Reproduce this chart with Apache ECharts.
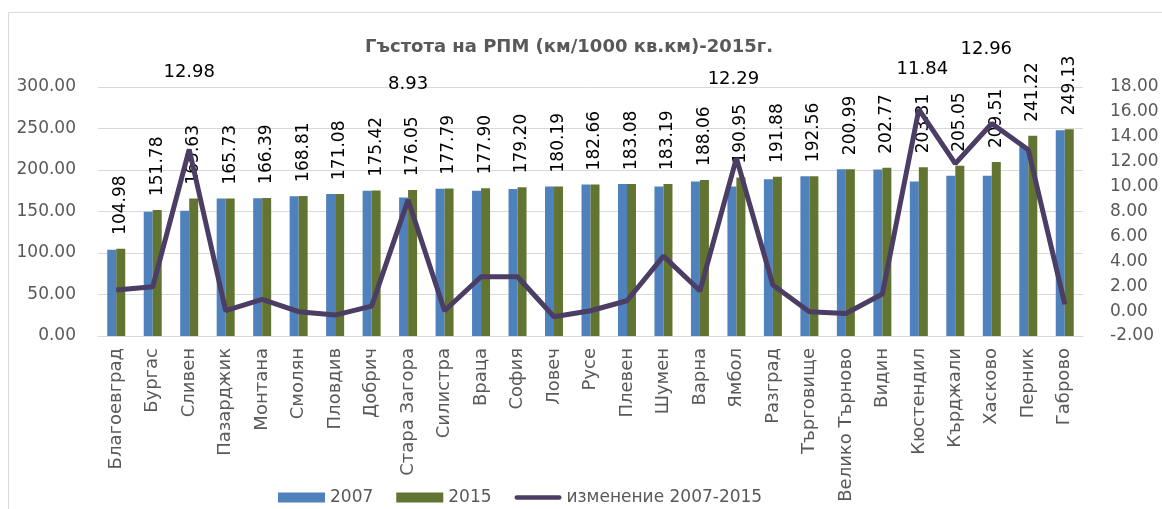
<!DOCTYPE html>
<html>
<head>
<meta charset="utf-8">
<script src="https://cdn.jsdelivr.net/npm/echarts@6/dist/echarts.min.js"></script>
<style>
  html, body { margin: 0; padding: 0; background: #fff; }
  #chart { width: 1162px; height: 509px; }
</style>
</head>
<body>
<div id="chart"></div>
<script>
const categories = ['Благоевград', 'Бургас', 'Сливен', 'Пазарджик', 'Монтана', 'Смолян', 'Пловдив', 'Добрич',
  'Стара Загора', 'Силистра', 'Враца', 'София', 'Ловеч', 'Русе', 'Плевен', 'Шумен', 'Варна', 'Ямбол',
  'Разград', 'Търговище', 'Велико Търново', 'Видин', 'Кюстендил', 'Кърджали', 'Хасково', 'Перник', 'Габрово']

const values2007 = [104.0, 149.6, 151.0, 165.6, 166.0, 168.5, 171.0, 175.0, 167.0, 177.5, 175.0, 177.0, 180.0,
  182.6, 183.0, 180.0, 186.0, 180.0, 189.0, 192.5, 201.0, 200.5, 186.0, 193.0, 193.0, 228.0, 248.0]

const values2015 = [104.98, 151.78, 165.63, 165.73, 166.39, 168.81, 171.08, 175.42, 176.05, 177.79, 177.90,
  179.20, 180.19, 182.66, 183.08, 183.19, 188.06, 190.95, 191.88, 192.56, 200.99, 202.77, 203.31, 205.05,
  209.51, 241.22, 249.13]

const change = [1.69, 1.95, 12.98, 0.03, 0.94, -0.05, -0.32, 0.40, 8.93, 0.03, 2.76, 2.76, -0.45, 0.03, 0.83,
  4.42, 1.63, 12.29, 2.09, -0.05, -0.19, 1.37, 16.20, 11.84, 15.07, 12.96, 0.56]

const seriesNames = ['2007', '2015', 'изменение 2007-2015']
const titleText = 'Гъстота на РПМ (км/1000 кв.км)-2015г.'

// which points of the line carry a label, and where Excel had moved them
const lineLabelOffsets = { 2: [0, -63], 8: [0, -101], 17: [-3, -64], 23: [-33, -80], 25: [-42, -86] }

const font = '"DejaVu Sans", "Liberation Sans", sans-serif'
const grey = '#595959'
const lineColor = '#4B3D63'

const lineData = change.map((v, i) => {
  const off = lineLabelOffsets[i]
  if (!off) return v
  return {
    value: v,
    label: {
      show: true,
      position: 'top',
      offset: off,
      formatter: (p) => p.value.toFixed(2),
      color: '#000',
      fontSize: 18,
      fontFamily: font
    }
  }
})

const chart = echarts.init(document.getElementById('chart'), null, { renderer: 'canvas' })

chart.setOption({
  animation: false,
  backgroundColor: '#fff',
  textStyle: { fontFamily: font },
  title: {
    text: titleText,
    left: 360,
    top: 33,
    textStyle: { fontFamily: font, fontSize: 18, fontWeight: 'bold', color: grey }
  },
  graphic: [{
    type: 'rect',
    shape: { x: 8.5, y: 12.5, width: 1200, height: 600 },
    style: { fill: 'none', stroke: '#D9D9D9', lineWidth: 1 },
    silent: true
  }],
  legend: {
    left: 273,
    top: 484,
    itemWidth: 47,
    itemHeight: 10,
    itemGap: 23,
    textStyle: { fontFamily: font, fontSize: 17, color: grey },
    data: [
      { name: seriesNames[0], icon: 'rect' },
      { name: seriesNames[1], icon: 'rect' },
      { name: seriesNames[2], icon: 'path://M2.5,0 L47.5,0 A2.5,2.5 0 0 1 47.5,5 L2.5,5 A2.5,2.5 0 0 1 2.5,0 Z' }
    ]
  },
  grid: { left: 98, right: 79, top: 87, bottom: 173, containLabel: false },
  xAxis: {
    type: 'category',
    data: categories,
    axisLine: { show: true, lineStyle: { color: '#D9D9D9' } },
    axisTick: { show: false },
    axisLabel: {
      rotate: 90,
      interval: 0,
      margin: 12,
      fontSize: 18,
      color: grey,
      fontFamily: font
    }
  },
  yAxis: [{
    type: 'value',
    min: 0,
    max: 300,
    interval: 50,
    axisLine: { show: false },
    axisTick: { show: false },
    splitLine: { lineStyle: { color: '#D9D9D9' } },
    axisLabel: {
      margin: 22,
      fontSize: 17,
      color: grey,
      fontFamily: font,
      formatter: (v) => v.toFixed(2)
    }
  }, {
    type: 'value',
    min: -2,
    max: 18,
    interval: 2,
    axisLine: { show: false },
    axisTick: { show: false },
    splitLine: { show: false },
    axisLabel: {
      margin: 27,
      fontSize: 17,
      color: grey,
      fontFamily: font,
      formatter: (v) => v.toFixed(2)
    }
  }],
  series: [{
    name: seriesNames[0],
    type: 'bar',
    data: values2007,
    barWidth: 9,
    barGap: '0%',
    itemStyle: { color: '#4F81BD' }
  }, {
    name: seriesNames[1],
    type: 'bar',
    data: values2015,
    barWidth: 9,
    barGap: '0%',
    itemStyle: { color: '#617432' },
    label: {
      show: true,
      position: 'top',
      rotate: 90,
      align: 'left',
      verticalAlign: 'middle',
      distance: 14,
      fontSize: 17,
      color: '#000',
      fontFamily: font,
      formatter: (p) => p.value.toFixed(2)
    }
  }, {
    name: seriesNames[2],
    type: 'line',
    yAxisIndex: 1,
    data: lineData,
    symbol: 'circle',
    symbolSize: 1,
    showSymbol: true,
    lineStyle: { width: 5, color: lineColor },
    itemStyle: { color: lineColor },
    z: 5
  }]
})
</script>
</body>
</html>
